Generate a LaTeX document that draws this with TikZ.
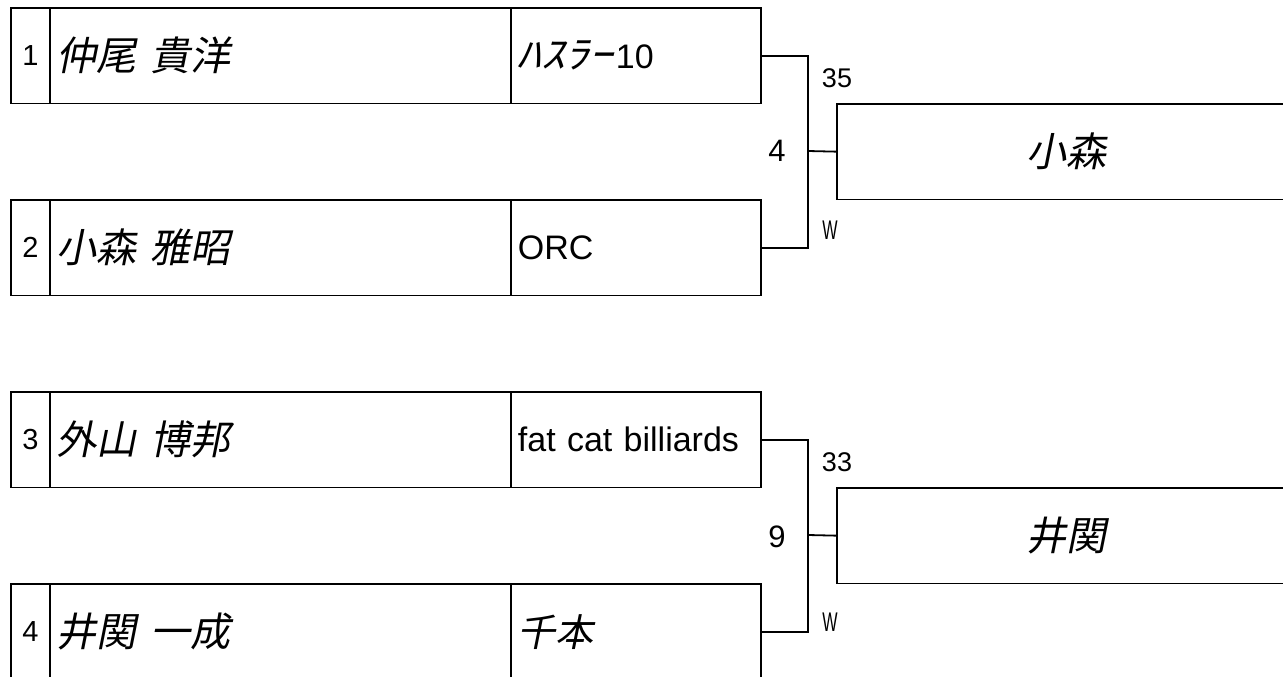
\documentclass[tikz,border=0pt]{standalone}
\usepackage{fontspec}
\usepackage{graphicx}
\setmainfont{Liberation Sans}
\newfontfamily\jpfont[FakeSlant=0.2]{Noto Sans CJK JP}
\newcommand{\jp}[1]{{\jpfont #1}}
\newcommand{\clubjp}[1]{{\jpfont\fontsize{38}{38}\selectfont #1}}
\newcommand{\narrowW}{\scalebox{0.6}[1]{W}}

\begin{document}
\begin{tikzpicture}[x=1pt,y=-1pt,line width=1.8pt,
  cell/.style={draw,anchor=north west,inner sep=0pt,minimum height=95.5pt},
  seedcell/.style={cell,minimum width=39pt,font=\fontsize{29}{29}\selectfont},
  namecell/.style={cell,minimum width=461pt,text width=447pt,inner xsep=7pt,align=left,font=\fontsize{40}{40}\selectfont},
  clubcell/.style={cell,minimum width=250pt,text width=236pt,inner xsep=7pt,align=left,font=\fontsize{34}{34}\selectfont},
  wincell/.style={cell,minimum width=460pt,font=\fontsize{40}{40}\selectfont},
  score/.style={font=\fontsize{27}{27}\selectfont},
  roundno/.style={font=\fontsize{31}{31}\selectfont}]
\path[use as bounding box,clip] (0,0) rectangle (1283,677);

\node[seedcell] (s1) at (10,7) {1};
\node[namecell] (n1) at (49,7) {\jp{仲尾 貴洋}};
\node[clubcell] (c1) at (510,7) {\clubjp{\scalebox{1.25}[1]{ﾊｽﾗｰ}}\hspace{3pt}10};
\node[seedcell] (s2) at (10,199) {2};
\node[namecell] (n2) at (49,199) {\jp{小森 雅昭}};
\node[clubcell] (c2) at (510,199) {ORC};
\node[wincell] (w1) at (836,103) {\jp{小森}};

\node[seedcell] (s3) at (10,391) {3};
\node[namecell] (n3) at (49,391) {\jp{外山 博邦}};
\node[clubcell] (c3) at (510,391) {fat cat billiards};
\node[seedcell] (s4) at (10,583) {4};
\node[namecell] (n4) at (49,583) {\jp{井関 一成}};
\node[clubcell] (c4) at (510,583) {\clubjp{千本}};
\node[wincell] (w2) at (836,487) {\jp{井関}};

\coordinate (j1) at (808,151);
\coordinate (j2) at (808,535);
\draw (c1.east) -| (j1) |- (c2.east);
\draw (j1) -- (w1.west);
\draw (c3.east) -| (j2) |- (c4.east);
\draw (j2) -- (w2.west);

\node[score] (sc1) at (837,78) {35};
\node[roundno] (r1) at (777,151) {4};
\node[score] (res1) at (830,230) {\narrowW};
\node[score] (sc2) at (837,462) {33};
\node[roundno] (r2) at (777,537) {9};
\node[score] (res2) at (830,622) {\narrowW};
\end{tikzpicture}
\end{document}
